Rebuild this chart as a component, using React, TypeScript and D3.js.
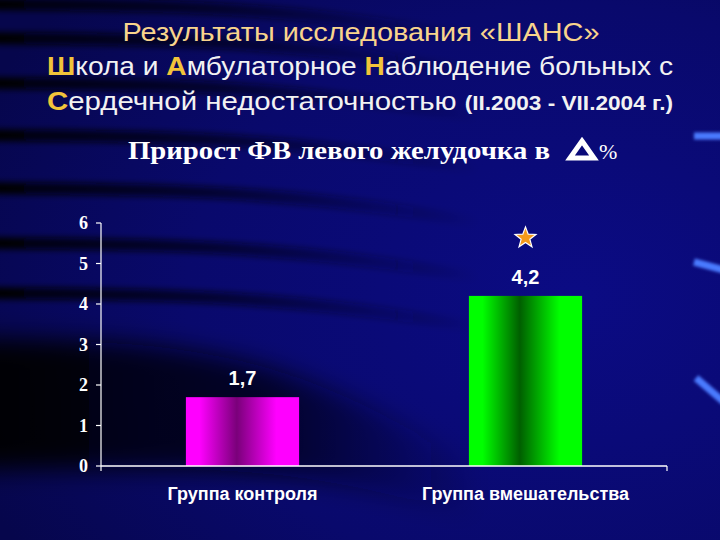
import React from 'react';
import * as d3 from 'd3';

// chart data
const categories = ['Группа контроля', 'Группа вмешательства'];
const values = [1.7, 4.2];
const valueLabels = ['1,7', '4,2'];
const yTicks = [0, 1, 2, 3, 4, 5, 6];
const significant = [false, true];

const barColors = [
  { edge: '#ff00ff', mid: '#7a007a' },
  { edge: '#00ff00', mid: '#005f00' },
];

const W = 720;
const H = 540;
const margin = { top: 223, right: 53, bottom: 74, left: 101 };

// dark stripes in the slide background (left side, fading to the right)
const stripeYs = [4, 38, 83, 135, 188, 243, 293];

const StarPath = (cx: number, cy: number, r: number) => {
  const pts: [number, number][] = d3.range(10).map((i) => {
    const a = (Math.PI / 5) * i - Math.PI / 2;
    const rr = i % 2 === 0 ? r : r * 0.42;
    return [cx + rr * Math.cos(a), cy + rr * Math.sin(a)];
  });
  return d3.line()(pts) + 'Z';
};

export default function App() {
  const innerW = W - margin.left - margin.right;
  const innerH = H - margin.top - margin.bottom;

  const x = d3.scaleBand<string>()
    .domain(categories)
    .range([0, innerW])
    .paddingInner(0.6)
    .paddingOuter(0.3);

  const y = d3.scaleLinear().domain([0, 6]).range([innerH, 0]);

  const curve = d3.line().curve(d3.curveBasis);
  const shadow = d3.area<[number, number, number]>()
    .x((d) => d[0])
    .y0((d) => d[1])
    .y1((d) => d[2])
    .curve(d3.curveBasis);

  const sans = '"Liberation Sans", Arial, sans-serif';
  const serif = '"Liberation Serif", "Times New Roman", serif';
  const hi = '#f2c43a';
  const wt = '#f2f2f2';

  return (
    <svg width={W} height={H} style={{ position: 'absolute', left: 0, top: 0 }}>
      <defs>
        <radialGradient id="bg" cx="0.8" cy="0.55" r="0.9">
          <stop offset="0" stopColor="#0b0b84" />
          <stop offset="0.6" stopColor="#09096c" />
          <stop offset="1" stopColor="#06064c" />
        </radialGradient>
        <linearGradient id="shadeL" gradientUnits="userSpaceOnUse" x1="0" x2="480" y1="0" y2="0">
          <stop offset="0" stopColor="#000006" stopOpacity="1" />
          <stop offset="0.45" stopColor="#00000e" stopOpacity="0.65" />
          <stop offset="1" stopColor="#000020" stopOpacity="0" />
        </linearGradient>
        <linearGradient id="shadeB" gradientUnits="userSpaceOnUse" x1="0" x2="480" y1="0" y2="0">
          <stop offset="0" stopColor="#000004" stopOpacity="0.95" />
          <stop offset="0.55" stopColor="#00000e" stopOpacity="0.75" />
          <stop offset="1" stopColor="#000020" stopOpacity="0" />
        </linearGradient>
        <filter id="blur" x="-20%" y="-50%" width="140%" height="200%">
          <feGaussianBlur stdDeviation="3" />
        </filter>
        <filter id="blur2" x="-20%" y="-50%" width="140%" height="200%">
          <feGaussianBlur stdDeviation="12" />
        </filter>
        <filter id="blurS" x="-20%" y="-100%" width="140%" height="300%">
          <feGaussianBlur stdDeviation="1.5" />
        </filter>
        {barColors.map((c, i) => (
          <linearGradient key={i} id={`bar${i}`} x1="0" x2="1" y1="0" y2="0">
            <stop offset="0" stopColor={c.edge} />
            <stop offset="0.12" stopColor={c.edge} />
            <stop offset="0.45" stopColor={c.mid} />
            <stop offset="0.8" stopColor={c.edge} />
            <stop offset="1" stopColor={c.edge} />
          </linearGradient>
        ))}
      </defs>

      {/* background */}
      <rect width={W} height={H} fill="url(#bg)" />
      <g filter="url(#blur)" fill="none" stroke="url(#shadeL)" strokeLinecap="round">
        {stripeYs.map((s, i) => (
          <path
            key={i}
            d={curve([[-30, s], [150, s + 1], [320, s + 10], [480, s + 34]]) || ''}
            strokeWidth={12}
          />
        ))}
      </g>
      <path
        d={shadow([
          [-30, 338, 470],
          [120, 340, 468],
          [260, 360, 470],
          [380, 410, 490],
          [480, 470, 520],
        ]) || ''}
        fill="url(#shadeB)"
        filter="url(#blur2)"
      />
      <g fill="none" stroke="#4a7aff" strokeWidth={7} filter="url(#blurS)">
        <line x1={694} y1={136} x2={724} y2={136} />
        <line x1={694} y1={262} x2={724} y2={270} />
        <line x1={696} y1={378} x2={724} y2={402} />
      </g>

      {/* titles */}
      <g fontFamily={sans} fontSize={26} textAnchor="middle" fill={wt} style={{ whiteSpace: 'pre' }}>
        <text x={361} y={41} fill="#f8d48c" textLength={477} lengthAdjust="spacingAndGlyphs">
          Результаты  исследования «ШАНС»
        </text>
        <text x={360} y={75} textLength={626} lengthAdjust="spacingAndGlyphs">
          <tspan fill={hi} fontWeight="bold">Ш</tspan>кола и <tspan fill={hi} fontWeight="bold">А</tspan>мбулаторное <tspan fill={hi} fontWeight="bold">Н</tspan>аблюдение больных с
        </text>
        <text x={360} y={110} textLength={626} lengthAdjust="spacingAndGlyphs">
          <tspan fill={hi} fontWeight="bold">С</tspan>ердечной недостаточностью <tspan fontWeight="bold" fontSize={20}>(II.2003 - VII.2004 г.)</tspan>
        </text>
      </g>
      <g fontFamily={serif} fill="#ffffff" style={{ whiteSpace: 'pre' }}>
        <text x={128} y={159} fontSize={26} fontWeight="bold" textLength={422} lengthAdjust="spacingAndGlyphs">
          Прирост ФВ левого желудочка  в
        </text>
        <path d="M582,141 L594,158 L570,158 Z" fill="none" stroke="#ffffff" strokeWidth={5} strokeLinejoin="miter" />
        <text x={599} y={159} fontSize={22}>%</text>
      </g>

      {/* chart */}
      <g transform={`translate(${margin.left},${margin.top})`}>
        {categories.map((c, i) => (
          <g key={c}>
            <rect
              x={x(c)}
              y={y(values[i])}
              width={x.bandwidth()}
              height={innerH - y(values[i])}
              fill={`url(#bar${i})`}
            />
            <text
              x={(x(c) || 0) + x.bandwidth() / 2}
              y={y(values[i]) - 12}
              textAnchor="middle"
              fontFamily={sans}
              fontWeight="bold"
              fontSize={20}
              fill="#ffffff"
            >
              {valueLabels[i]}
            </text>
            {significant[i] && (
              <path
                d={StarPath((x(c) || 0) + x.bandwidth() / 2, y(values[i]) - 58, 11)}
                fill="#f59a1c"
                stroke="#ffffff"
                strokeWidth={1.2}
              />
            )}
            <text
              x={(x(c) || 0) + x.bandwidth() / 2}
              y={innerH + 34}
              textAnchor="middle"
              fontFamily={sans}
              fontWeight="bold"
              fontSize={18}
              fill="#ffffff"
            >
              {c}
            </text>
          </g>
        ))}

        {/* y axis */}
        <line x1={0} x2={0} y1={0} y2={innerH} stroke="#ffffff" strokeWidth={1.2} />
        {yTicks.map((t) => (
          <g key={t} transform={`translate(0,${y(t)})`}>
            <line x1={-5} x2={0} stroke="#ffffff" strokeWidth={1.2} />
            <text
              x={-13}
              dy="0.35em"
              textAnchor="end"
              fontFamily={serif}
              fontWeight="bold"
              fontSize={18}
              fill="#ffffff"
            >
              {t}
            </text>
          </g>
        ))}

        {/* x axis */}
        <line x1={0} x2={innerW} y1={innerH} y2={innerH} stroke="#ffffff" strokeWidth={1.5} />
        {[0, innerW].map((v) => (
          <line key={v} x1={v} x2={v} y1={innerH} y2={innerH + 5} stroke="#ffffff" strokeWidth={1.2} />
        ))}
      </g>
    </svg>
  );
}
